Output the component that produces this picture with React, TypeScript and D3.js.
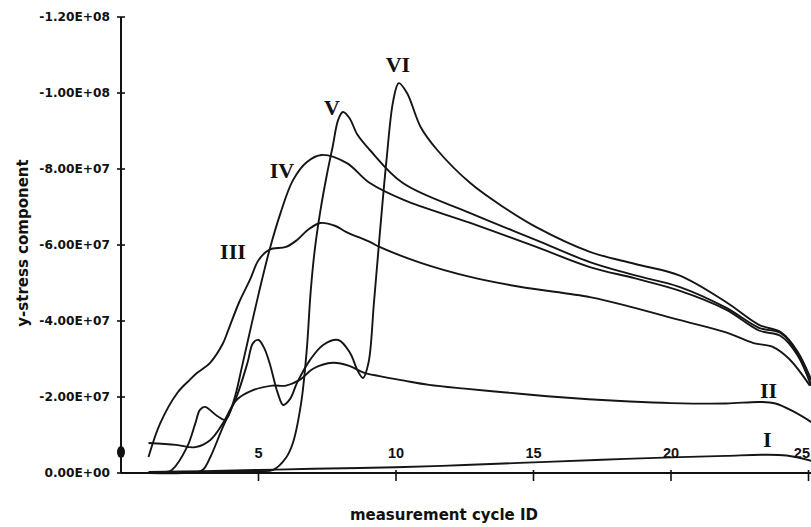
import { useMemo } from 'react'
import * as d3 from 'd3'

// stress values are in units of 1E+07 (negative = compressive, drawn upward)
const UNIT = 1e7

const xTicks = [5, 10, 15, 20, 25]
const yTicks = [0, -2e7, -4e7, -6e7, -8e7, -1e8, -1.2e8]

const cycI = [1, 3, 5, 7, 10, 12.5, 15, 17.5, 20, 22, 23.3, 24.2, 25.1]
const stressI = [-0.03, -0.05, -0.08, -0.11, -0.15, -0.21, -0.28, -0.35, -0.41, -0.45, -0.48, -0.46, -0.32]

const cycII = [1, 2, 2.7, 3.25, 3.7, 4.2, 4.8, 5.5, 6.0, 6.5, 7.0, 7.7, 8.3, 8.8, 9.4, 10.3, 11.2, 12.5, 14, 15.5, 17, 18.5, 20, 22, 23.2, 23.8, 24.5, 25.1]
const stressII = [-0.79, -0.74, -0.68, -0.87, -1.3, -1.92, -2.18, -2.3, -2.3, -2.45, -2.75, -2.9, -2.82, -2.65, -2.55, -2.43, -2.32, -2.22, -2.12, -2.02, -1.94, -1.88, -1.84, -1.83, -1.87, -1.83, -1.6, -1.34]

const cycIII = [1, 1.42, 2.04, 2.5, 2.76, 3.24, 3.7, 3.9, 4.3, 4.7, 5.0, 5.4, 6.0, 6.4, 6.8, 7.25, 7.8, 8.2, 9.05, 9.4, 10.9, 12.7, 14.5, 17.05, 18.5, 20.3, 22, 23, 23.7, 24.3, 25.05]
const stressIII = [-0.42, -1.3, -2.1, -2.45, -2.63, -2.9, -3.4, -3.76, -4.5, -5.1, -5.6, -5.88, -5.95, -6.13, -6.4, -6.58, -6.5, -6.34, -6.08, -5.95, -5.53, -5.16, -4.9, -4.63, -4.38, -4.03, -3.7, -3.42, -3.32, -3.0, -2.3]

const cycIV = [1, 1.6, 1.85, 2.4, 2.7, 2.87, 3.05, 3.5, 3.8, 4.1, 4.4, 4.7, 5.0, 5.4, 5.8, 6.25, 6.75, 7.3, 8.2, 9.05, 10.3, 12.7, 15.1, 17.05, 18.7, 20.3, 22, 23.2, 24, 24.6, 25.1]
const stressIV = [0, -0.02, -0.08, -0.68, -1.3, -1.66, -1.74, -1.5, -1.4, -1.9, -2.8, -3.76, -4.7, -5.87, -6.84, -7.7, -8.18, -8.37, -8.16, -7.63, -7.18, -6.58, -5.95, -5.42, -5.12, -4.8, -4.3, -3.75, -3.6, -3.1, -2.3]

const cycV = [1, 3, 5, 5.53, 6.0, 6.25, 6.55, 6.75, 6.9, 7.05, 7.25, 7.5, 7.7, 7.9, 8.07, 8.3, 8.6, 9.05, 10.25, 12.7, 15.1, 17.05, 18.7, 20.3, 22, 23.2, 24, 24.6, 25.1]
const stressV = [0, -0.02, -0.05, -0.08, -0.4, -0.79, -1.84, -3.2, -4.8, -5.9, -6.9, -7.9, -8.6, -9.3, -9.5, -9.35, -8.9, -8.5, -7.63, -6.84, -6.13, -5.55, -5.2, -4.9, -4.35, -3.82, -3.68, -3.15, -2.3]

const cycVI = [1, 2.8, 3.0, 3.25, 3.7, 4.2, 4.6, 4.8, 5.0, 5.2, 5.4, 5.7, 5.9, 6.15, 6.4, 6.87, 7.35, 7.9, 8.33, 8.6, 8.8, 9.0, 9.2, 9.4, 9.65, 9.9, 10.1, 10.4, 10.9, 11.5, 12.7, 13.9, 15.1, 17.05, 18.7, 20.3, 22, 23.2, 24, 24.6, 25.1]
const stressVI = [0, -0.03, -0.1, -0.42, -1.2, -2.0, -2.9, -3.42, -3.5, -3.3, -2.9, -2.1, -1.79, -1.95, -2.37, -2.97, -3.37, -3.5, -3.16, -2.7, -2.5, -2.9, -4.5, -6.2, -8.2, -9.8, -10.26, -10.0, -9.1, -8.5, -7.63, -7.0, -6.47, -5.82, -5.5, -5.2, -4.5, -3.9, -3.7, -3.2, -2.45]

const seriesNames = ['I', 'II', 'III', 'IV', 'V', 'VI']
const seriesCycles = [cycI, cycII, cycIII, cycIV, cycV, cycVI]
const seriesStress = [stressI, stressII, stressIII, stressIV, stressV, stressVI]

// where each roman label sits (cycle, stress in 1E+07)
const labelCycle = [23.5, 23.55, 4.07, 5.85, 7.67, 10.07]
const labelStress = [-0.89, -2.18, -5.82, -7.97, -9.63, -10.74]

const markerCycle = 0
const markerStress = -0.55

const fmtE = (v: number) => {
  const s = v.toExponential(2).toUpperCase()
  const [m, e] = s.split('E')
  const sign = e[0] === '-' ? '-' : '+'
  const digits = e.replace(/[+-]/, '').padStart(2, '0')
  return `${m}E${sign}${digits}`
}

export default function App() {
  const width = 811
  const height = 527

  const x = useMemo(() => d3.scaleLinear().domain([0, 25]).range([121, 808.5]), [])
  const y = useMemo(() => d3.scaleLinear().domain([0, -1.2e8]).range([473, 17]), [])

  const line = d3
    .line<[number, number]>()
    .x((d) => x(d[0]))
    .y((d) => y(d[1] * UNIT))
    .curve(d3.curveCatmullRom.alpha(0.5))

  const sans = '"DejaVu Sans", sans-serif'

  return (
    <svg
      width={width}
      height={height}
      style={{ position: 'absolute', left: 0, top: 0, background: '#fff' }}
    >
      <rect width={width} height={height} fill="#fff" />

      {/* curves */}
      <g fill="none" stroke="#151515" strokeWidth={1.9} strokeLinejoin="round">
        {seriesNames.map((name, i) => (
          <path
            key={name}
            d={line(seriesCycles[i].map((c, j) => [c, seriesStress[i][j]] as [number, number])) || ''}
          />
        ))}
      </g>

      {/* y axis */}
      <line x1={x(0)} x2={x(0)} y1={y(-1.2e8)} y2={y(0)} stroke="#111" strokeWidth={2} />
      <g fontFamily={sans} fontWeight="bold" fontSize={12.2} fill="#111" textAnchor="end">
        {yTicks.map((t) => (
          <g key={t}>
            <line x1={x(0) - 4} x2={x(0) + 4} y1={y(t)} y2={y(t)} stroke="#111" strokeWidth={1.6} />
            <text x={x(0) - 11} y={y(t)} dominantBaseline="central">
              {fmtE(t)}
            </text>
          </g>
        ))}
      </g>
      <ellipse cx={x(markerCycle)} cy={y(markerStress * UNIT)} rx={4} ry={6} fill="#111" />

      {/* x axis */}
      <line x1={x(0)} x2={width} y1={y(0)} y2={y(0)} stroke="#111" strokeWidth={2} />
      <g fontFamily='"Liberation Sans", Arial, sans-serif' fontWeight="bold" fontSize={14.5} fill="#111">
        {xTicks.map((t, i) => {
          const last = i === xTicks.length - 1
          return (
            <g key={t}>
              <line x1={x(t)} x2={x(t)} y1={y(0) - 3} y2={y(0) + 8} stroke="#111" strokeWidth={1.6} />
              <text
                x={last ? width - 1 : x(t)}
                y={y(0) - 20}
                textAnchor={last ? 'end' : 'middle'}
                dominantBaseline="central"
              >
                {t}
              </text>
            </g>
          )
        })}
      </g>

      {/* roman labels */}
      <g fontFamily='"Liberation Serif", "Times New Roman", serif' fontWeight="bold" fontSize={22} fill="#111" textAnchor="middle">
        {seriesNames.map((name, i) => (
          <text key={name} x={x(labelCycle[i])} y={y(labelStress[i] * UNIT)} dominantBaseline="central">
            {name}
          </text>
        ))}
      </g>

      {/* axis titles */}
      <text
        x={444}
        y={515}
        fontFamily={sans}
        fontWeight="bold"
        fontSize={15}
        fill="#111"
        textAnchor="middle"
        dominantBaseline="central"
      >
        measurement cycle ID
      </text>
      <text
        transform="translate(23,243) rotate(-90)"
        fontFamily={sans}
        fontWeight="bold"
        fontSize={15}
        fill="#111"
        textAnchor="middle"
        dominantBaseline="central"
      >
        y-stress component
      </text>
    </svg>
  )
}
